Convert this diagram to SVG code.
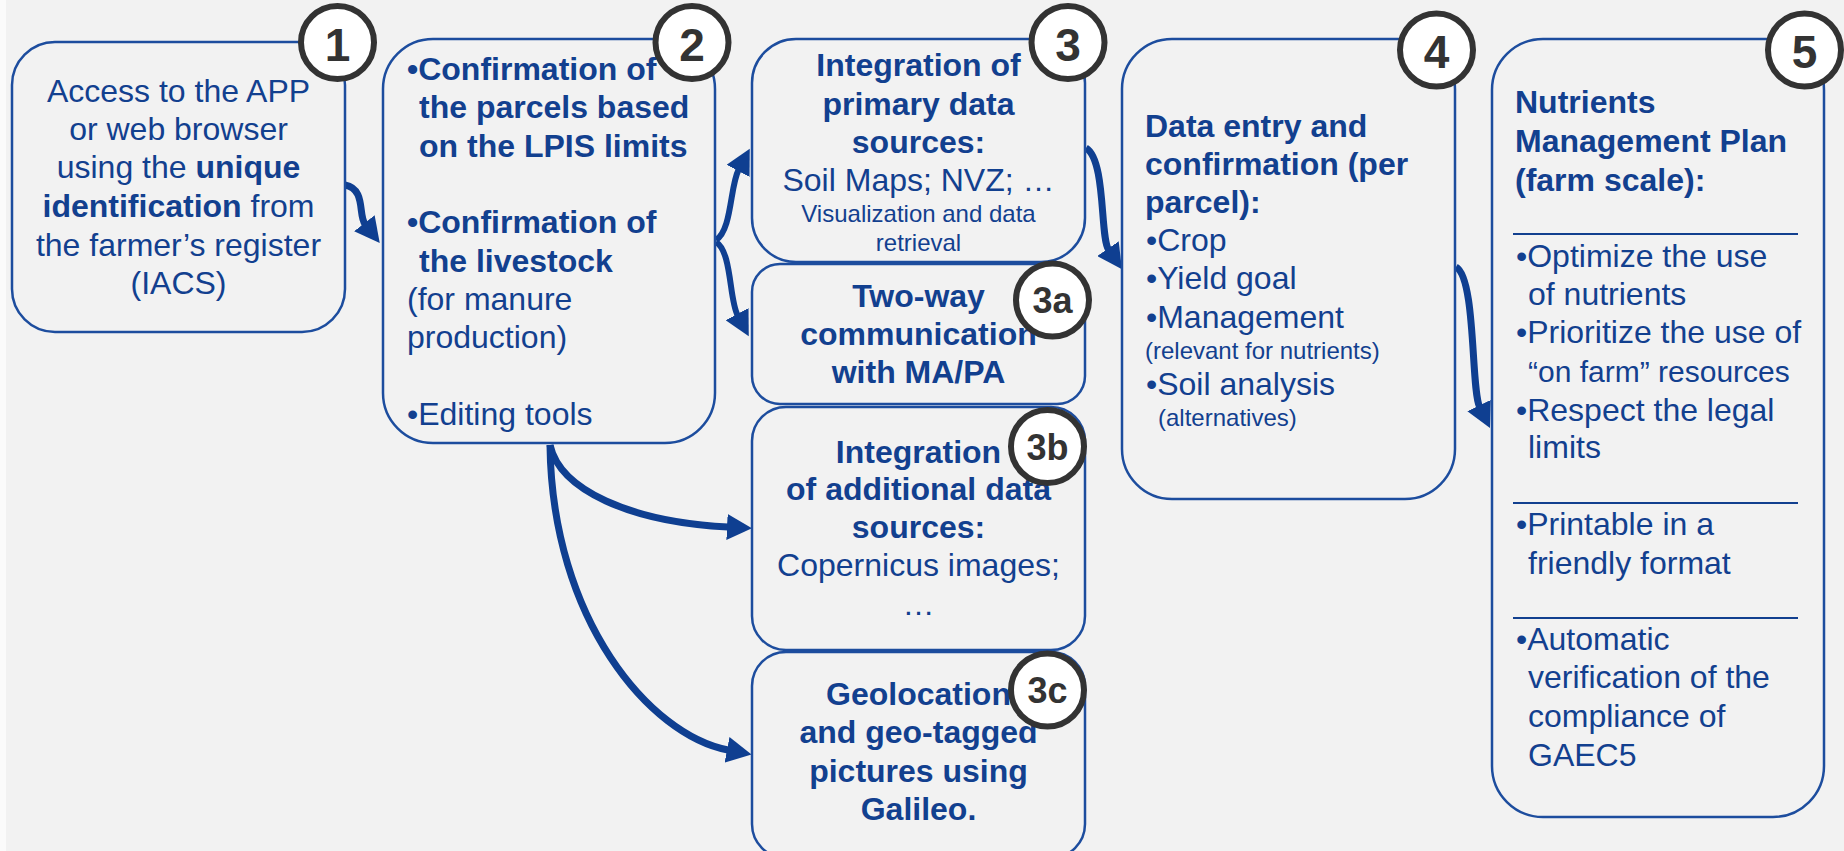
<svg xmlns="http://www.w3.org/2000/svg" width="1844" height="851" viewBox="0 0 1844 851">
<defs>
<style>
.box{fill:#f2f2f2;stroke:#1D4D9E;stroke-width:2.5}
.badge{fill:#ffffff;stroke:#333333;stroke-width:6}
.num{font-family:"Liberation Sans",Arial,sans-serif;font-weight:bold;font-size:46px;fill:#333333;text-anchor:middle}
.sub{font-family:"Liberation Sans",Arial,sans-serif;font-weight:bold;font-size:36px;fill:#333333;text-anchor:middle}
.t{font-family:"Liberation Sans",Arial,sans-serif;font-size:32px;fill:#12408F}
.b{font-weight:bold}
.s{font-size:24px}
.c{text-anchor:middle}
.conn{fill:none;stroke:#0F3F91;stroke-width:7;marker-end:url(#ah)}
.div{stroke:#12408F;stroke-width:2}
</style>
<marker id="ah" markerUnits="userSpaceOnUse" markerWidth="26" markerHeight="26" viewBox="0 0 26 26" refX="1" refY="13" orient="auto">
<path d="M0,0 L25,13 L0,26 z" fill="#0F3F91"/>
</marker>
</defs>
<rect x="0" y="0" width="1844" height="851" fill="#f2f2f2"/>
<rect x="0" y="0" width="6" height="851" fill="#fbfbfb"/>

<g id="connectors">
<path class="conn" d="M345,185 C366,189 358,215 365,224"/>
<path class="conn" style="stroke-width:6" d="M716,240 C732,230 730,186 738.5,170"/>
<path class="conn" style="stroke-width:6" d="M716,242 C732,252 729,299 737.5,315"/>
<path class="conn" d="M1086,148 C1106,160 1100,237 1108.5,249.5"/>
<path class="conn" d="M1456,267 C1476,278 1471,389 1479.5,406.5"/>
<path class="conn" d="M550,445 C560,490 630,522 728,527"/>
<path class="conn" d="M550,445 C552,620 650,735 728,750"/>
</g>

<g id="node1">
<rect class="box" x="12" y="42" width="333" height="290" rx="43"/>
<text class="t c" x="178.5" y="102">Access to the APP</text>
<text class="t c" x="178.5" y="140">or web browser</text>
<text class="t c" x="178.5" y="178">using the <tspan class="b">unique</tspan></text>
<text class="t c" x="178.5" y="217"><tspan class="b">identification</tspan> from</text>
<text class="t c" x="178.5" y="256">the farmer’s register</text>
<text class="t c" x="178.5" y="294">(IACS)</text>
<circle class="badge" cx="337.5" cy="42.5" r="36.5"/>
<text class="num" x="337.5" y="61">1</text>
</g>

<g id="node2">
<rect class="box" x="383" y="39" width="332" height="404" rx="50"/>
<text class="t b" x="407" y="80">•Confirmation of</text>
<text class="t b" x="419" y="118">the parcels based</text>
<text class="t b" x="419" y="157">on the LPIS limits</text>
<text class="t b" x="407" y="233">•Confirmation of</text>
<text class="t b" x="419" y="272">the livestock</text>
<text class="t" x="407" y="310">(for manure</text>
<text class="t" x="407" y="348">production)</text>
<text class="t" x="407" y="425">•Editing tools</text>
<circle class="badge" cx="692" cy="42.5" r="36.5"/>
<text class="num" x="692" y="61">2</text>
</g>

<g id="node3">
<rect class="box" x="752" y="39" width="333" height="223" rx="44"/>
<text class="t b c" x="918.5" y="76">Integration of</text>
<text class="t b c" x="918.5" y="115">primary data</text>
<text class="t b c" x="918.5" y="153">sources:</text>
<text class="t c" x="918.5" y="191">Soil Maps; NVZ; …</text>
<text class="t s c" x="918.5" y="222">Visualization and data</text>
<text class="t s c" x="918.5" y="251">retrieval</text>
<circle class="badge" cx="1068" cy="42.5" r="36.5"/>
<text class="num" x="1068" y="61">3</text>
</g>

<g id="node3a">
<rect class="box" x="752" y="264" width="333" height="140" rx="28"/>
<text class="t b c" x="918.5" y="307">Two-way</text>
<text class="t b c" x="918.5" y="345">communication</text>
<text class="t b c" x="918.5" y="383">with MA/PA</text>
<circle class="badge" cx="1052.5" cy="300" r="36.5"/>
<text class="sub" x="1052.5" y="313">3a</text>
</g>

<g id="node3b">
<rect class="box" x="752" y="407" width="333" height="243" rx="34"/>
<text class="t b c" x="918.5" y="463">Integration</text>
<text class="t b c" x="918.5" y="500">of additional data</text>
<text class="t b c" x="918.5" y="538">sources:</text>
<text class="t c" x="918.5" y="576">Copernicus images;</text>
<text class="t c" x="918.5" y="615">…</text>
<circle class="badge" cx="1047.5" cy="446.5" r="36.5"/>
<text class="sub" x="1047.5" y="459.5">3b</text>
</g>

<g id="node3c">
<rect class="box" x="752" y="652" width="333" height="206" rx="34"/>
<text class="t b c" x="918.5" y="705">Geolocation</text>
<text class="t b c" x="918.5" y="743">and geo-tagged</text>
<text class="t b c" x="918.5" y="782">pictures using</text>
<text class="t b c" x="918.5" y="820">Galileo.</text>
<circle class="badge" cx="1047.5" cy="690" r="36.5"/>
<text class="sub" x="1047.5" y="703">3c</text>
</g>

<g id="node4">
<rect class="box" x="1122" y="39" width="333" height="460" rx="50"/>
<text class="t b" x="1145" y="137">Data entry and</text>
<text class="t b" x="1145" y="175">confirmation (per</text>
<text class="t b" x="1145" y="213">parcel):</text>
<text class="t" x="1146" y="251">•Crop</text>
<text class="t" x="1146" y="289">•Yield goal</text>
<text class="t" x="1146" y="328">•Management</text>
<text class="t s" x="1145" y="359">(relevant for nutrients)</text>
<text class="t" x="1146" y="395">•Soil analysis</text>
<text class="t s" x="1158" y="426">(alternatives)</text>
<circle class="badge" cx="1436.5" cy="50" r="36.5"/>
<text class="num" x="1436.5" y="68">4</text>
</g>

<g id="node5">
<rect class="box" x="1492" y="39" width="332" height="778" rx="51"/>
<text class="t b" x="1515" y="113">Nutrients</text>
<text class="t b" x="1515" y="152">Management Plan</text>
<text class="t b" x="1515" y="191">(farm scale):</text>
<line class="div" x1="1513" y1="234" x2="1798" y2="234"/>
<text class="t" x="1516" y="267">•Optimize the use</text>
<text class="t" x="1528" y="305">of nutrients</text>
<text class="t" x="1516" y="343">•Prioritize the use of</text>
<text class="t" x="1528" y="382" style="font-size:30px">“on farm” resources</text>
<text class="t" x="1516" y="421">•Respect the legal</text>
<text class="t" x="1528" y="458">limits</text>
<line class="div" x1="1513" y1="503" x2="1798" y2="503"/>
<text class="t" x="1516" y="535">•Printable in a</text>
<text class="t" x="1528" y="574">friendly format</text>
<line class="div" x1="1513" y1="618" x2="1798" y2="618"/>
<text class="t" x="1516" y="650">•Automatic</text>
<text class="t" x="1528" y="688">verification of the</text>
<text class="t" x="1528" y="727">compliance of</text>
<text class="t" x="1528" y="766">GAEC5</text>
<circle class="badge" cx="1804.5" cy="50" r="36.5"/>
<text class="num" x="1804.5" y="68">5</text>
</g>
</svg>
